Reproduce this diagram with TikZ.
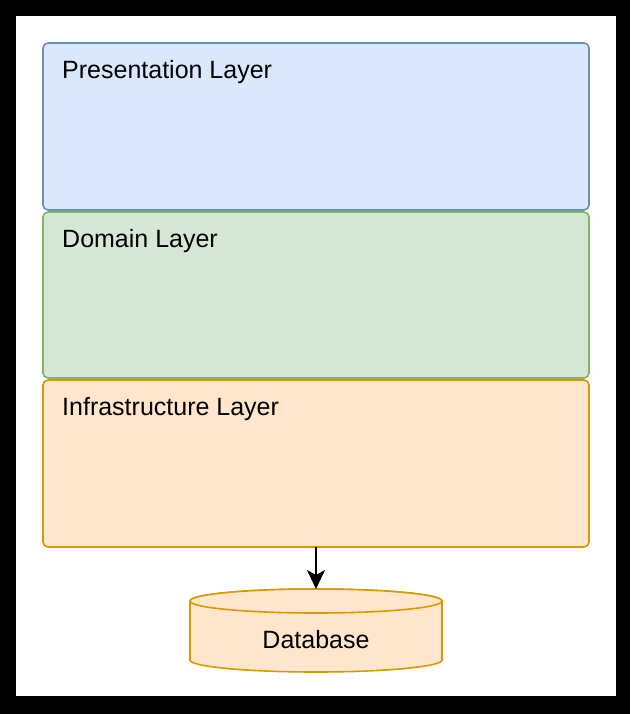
\documentclass[tikz,border=0pt]{standalone}
\usepackage{fontspec}
\setmainfont{Liberation Sans}
\usetikzlibrary{arrows.meta}
\definecolor{bluefill}{HTML}{DAE8FC}
\definecolor{bluestroke}{HTML}{6C8EBF}
\definecolor{greenfill}{HTML}{D5E8D4}
\definecolor{greenstroke}{HTML}{82B366}
\definecolor{orangefill}{HTML}{FFE6CC}
\definecolor{orangestroke}{HTML}{D79B00}
\begin{document}
\begin{tikzpicture}[x=1pt,y=-1pt,
  layer/.style={draw=#1stroke, fill=#1fill, line width=1.6pt, rounded corners=5pt},
  lbl/.style={anchor=base west, inner sep=0pt, font=\fontsize{25}{30}\selectfont},
  dbstyle/.style={draw=orangestroke, fill=orangefill, line width=1.6pt},
  arr/.style={-{Stealth[length=19pt,width=18pt,inset=5pt]}, line width=1.8pt, black}]
\useasboundingbox (0,0) rectangle (630,714);
\fill[black] (0,0) rectangle (630,714);
\fill[white] (16,16) rectangle (616,696);
% layers
\draw[layer=blue] (43,43) rectangle (589,210);
\draw[layer=green] (43,212) rectangle (589,378);
\draw[layer=orange] (43,380) rectangle (589,547);
\coordinate (pres) at (316,43);
\coordinate (infrabot) at (316,547);
\node[lbl] (t1) at (62,79) {Presentation Layer};
\node[lbl] (t2) at (62,247) {Domain Layer};
\node[lbl] (t3) at (62,415) {Infrastructure Layer};
% database cylinder
\draw[dbstyle] (190,601) arc[x radius=126, y radius=12, start angle=180, end angle=360]
  -- (442,660) arc[x radius=126, y radius=12, start angle=0, end angle=180] -- cycle;
\draw[dbstyle] (316,601) ellipse[x radius=126, y radius=12];
\coordinate (dbtop) at (316,589);
\node[font=\fontsize{25}{30}\selectfont, inner sep=0pt] (db) at (316,640) {Database};
\draw[arr] (infrabot) -- (dbtop);
\end{tikzpicture}
\end{document}
